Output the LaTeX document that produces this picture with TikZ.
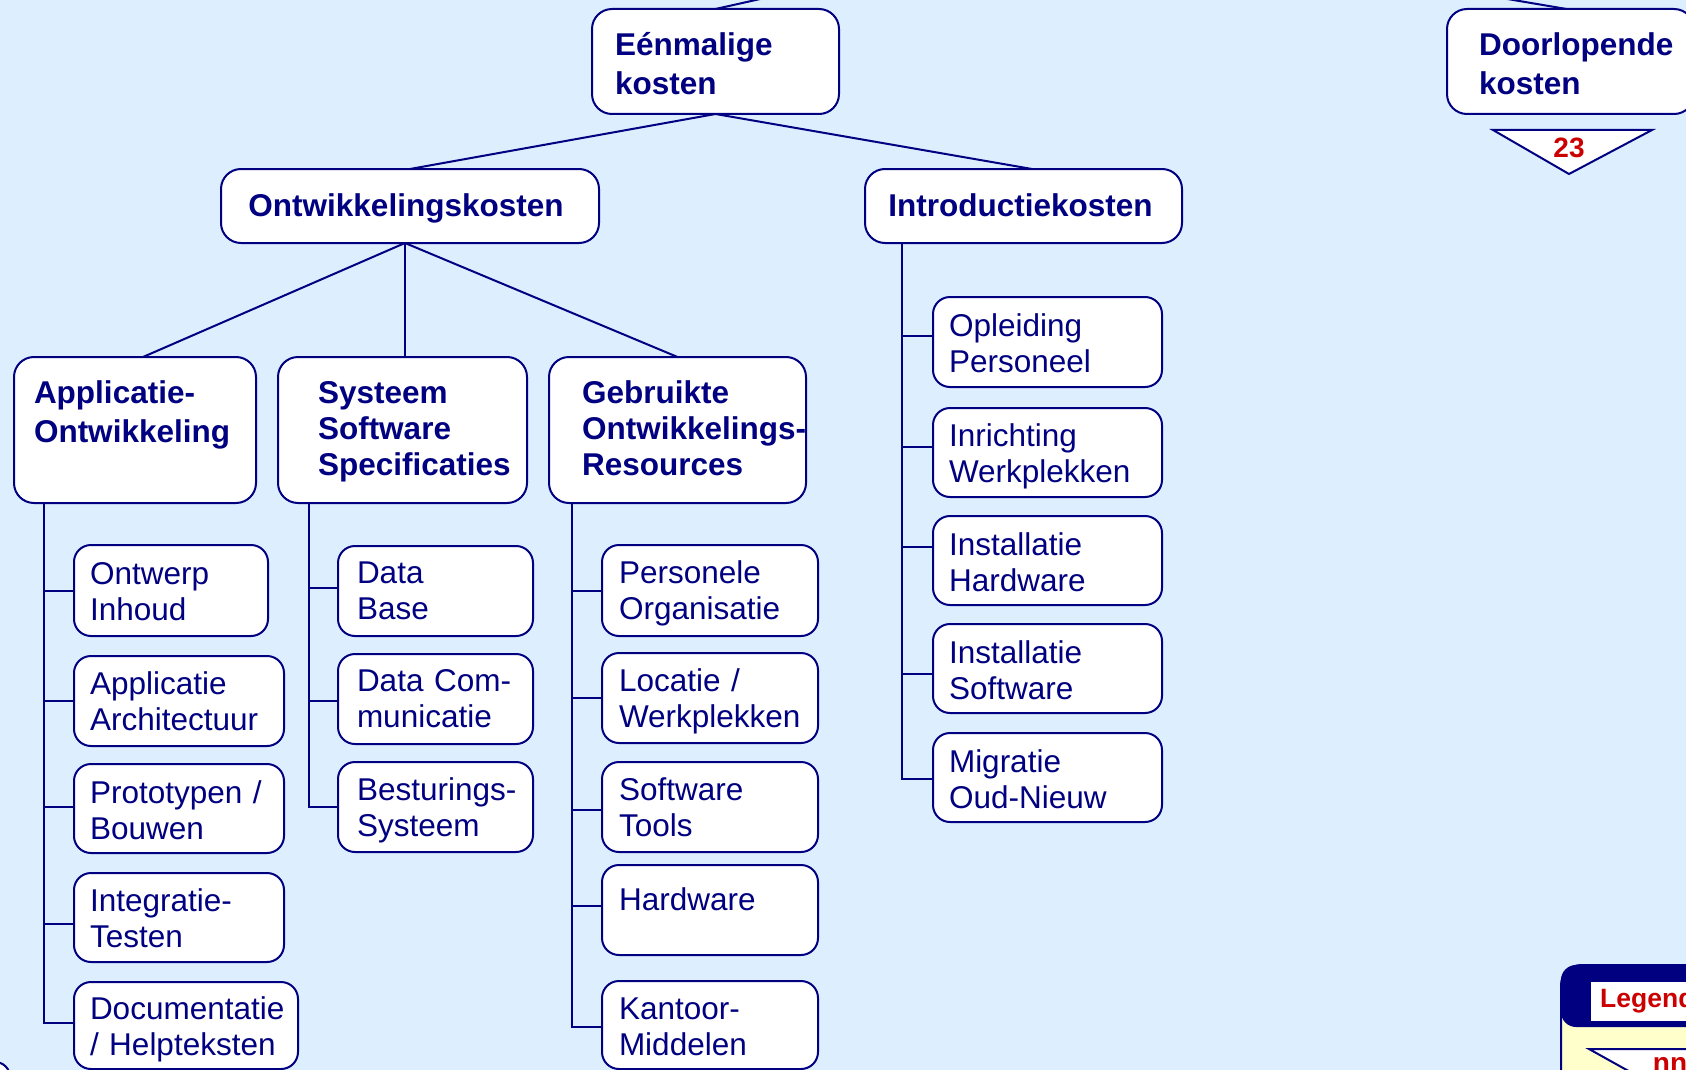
\documentclass[tikz,border=0pt]{standalone}
\usepackage{fontspec}
\setmainfont{Liberation Sans}
\usetikzlibrary{fit}
\definecolor{navy}{HTML}{000080}
\definecolor{bgblue}{HTML}{DDEEFF}
\definecolor{lred}{HTML}{CC0000}
\definecolor{lyellow}{HTML}{FFFFCC}
\begin{document}
\begin{tikzpicture}[x=1pt,y=-1pt,
  conn/.style={draw=navy, line width=2pt},
  box/.style={draw=navy, fill=white, line width=2pt, rounded corners=17pt, inner sep=0pt, outer sep=0pt},
  bigbox/.style={box, rounded corners=20pt},
  lt/.style={anchor=base west, inner sep=0pt, outer sep=0pt, align=left, text width=400pt, text=navy,
             font=\fontsize{31.5pt}{36.5pt}\selectfont},
  bt/.style={lt, font=\bfseries\fontsize{31.5pt}{38.5pt}\selectfont},
  bt36/.style={lt, font=\bfseries\fontsize{31.5pt}{36pt}\selectfont},
  bt39/.style={lt, font=\bfseries\fontsize{31.5pt}{39.5pt}\selectfont},
  ctext/.style={anchor=base, inner sep=0pt, text=navy, font=\bfseries\fontsize{31.5pt}{38pt}\selectfont},
  marktext/.style={text=lred, font=\bfseries\fontsize{28pt}{30pt}\selectfont, inner sep=0pt}
]
\useasboundingbox (0,0) rectangle (1686,1070);
\clip (0,0) rectangle (1686,1070);
\fill[bgblue] (0,0) rectangle (1686,1070);

% top level
\coordinate (root) at (1082,-73);
\node[bigbox, fit={(592,9) (839,114)}] (een) {};
\node[bt] (eent) at ([xshift=23pt,yshift=-47pt]een.north west) {Eénmalige\\kosten};
\node[bigbox, fit={(1447,9) (1694,114)}] (door) {};
\node[bt] (doort) at ([xshift=32pt,yshift=-47pt]door.north west) {Doorlopende\\kosten};

% off-page marker
\draw[conn, fill=white] (1493,130) -- (1652,130) -- (1569,174) -- cycle;
\node[marktext] (t23) at (1569,148) {23};

% level 2
\node[bigbox, fit={(221,169) (599,243)}] (ontw) {};
\node[ctext] (ontwt) at ([xshift=-4pt,yshift=-47pt]ontw.north) {Ontwikkelingskosten};
\node[bigbox, fit={(865,169) (1182,243)}] (intro) {};
\node[ctext] (introt) at ([xshift=-3pt,yshift=-47pt]intro.north) {Introductiekosten};

% level 3
\node[bigbox, fit={(14,357) (256,503)}] (ap) {};
\node[bt39] (apt) at ([xshift=20pt,yshift=-46pt]ap.north west) {Applicatie-\\Ontwikkeling};
\node[bigbox, fit={(278,357) (527,503)}] (sy) {};
\node[bt36] (syt) at ([xshift=40pt,yshift=-46pt]sy.north west) {Systeem\\Software\\Specificaties};
\node[bigbox, fit={(549,357) (806,503)}] (ge) {};
\node[bt36] (get) at ([xshift=33pt,yshift=-46pt]ge.north west) {Gebruikte\\Ontwikkelings-\\Resources};

% children of Applicatie-Ontwikkeling
\node[box, fit={(74,545) (268,636)}] (a1) {};
\node[lt] (a1t) at ([xshift=16pt,yshift=-39pt]a1.north west) {Ontwerp\\Inhoud};
\node[box, fit={(74,656) (284,746)}] (a2) {};
\node[lt] (a2t) at ([xshift=16pt,yshift=-38pt]a2.north west) {Applicatie\\Architectuur};
\node[box, fit={(74,764) (284,853)}] (a3) {};
\node[lt] (a3t) at ([xshift=16pt,yshift=-39pt]a3.north west) {Prototypen /\\Bouwen};
\node[box, fit={(74,873) (284,962)}] (a4) {};
\node[lt] (a4t) at ([xshift=16pt,yshift=-38pt]a4.north west) {Integratie-\\Testen};
\node[box, fit={(74,982) (298,1069)}] (a5) {};
\node[lt] (a5t) at ([xshift=16pt,yshift=-37pt]a5.north west) {Documentatie\\/ Helpteksten};

% children of Systeem Software Specificaties
\node[box, fit={(338,546) (533,636)}] (s1) {};
\node[lt] (s1t) at ([xshift=19pt,yshift=-37pt]s1.north west) {Data\\Base};
\node[box, fit={(338,654) (533,744)}] (s2) {};
\node[lt] (s2t) at ([xshift=19pt,yshift=-37pt]s2.north west) {Data Com-\\municatie};
\node[box, fit={(338,762) (533,852)}] (s3) {};
\node[lt] (s3t) at ([xshift=19pt,yshift=-38pt]s3.north west) {Besturings-\\Systeem};

% children of Gebruikte Ontwikkelings-Resources
\node[box, fit={(602,545) (818,636)}] (g1) {};
\node[lt] (g1t) at ([xshift=17pt,yshift=-38pt]g1.north west) {Personele\\Organisatie};
\node[box, fit={(602,653) (818,743)}] (g2) {};
\node[lt] (g2t) at ([xshift=17pt,yshift=-38pt]g2.north west) {Locatie /\\Werkplekken};
\node[box, fit={(602,762) (818,852)}] (g3) {};
\node[lt] (g3t) at ([xshift=17pt,yshift=-38pt]g3.north west) {Software\\Tools};
\node[box, fit={(602,865) (818,955)}] (g4) {};
\node[lt] (g4t) at ([xshift=17pt,yshift=-45pt]g4.north west) {Hardware};
\node[box, fit={(602,981) (818,1069)}] (g5) {};
\node[lt] (g5t) at ([xshift=17pt,yshift=-38pt]g5.north west) {Kantoor-\\Middelen};

% children of Introductiekosten
\node[box, fit={(933,297) (1162,387)}] (i1) {};
\node[lt] (i1t) at ([xshift=16pt,yshift=-39pt]i1.north west) {Opleiding\\Personeel};
\node[box, fit={(933,408) (1162,497)}] (i2) {};
\node[lt] (i2t) at ([xshift=16pt,yshift=-38pt]i2.north west) {Inrichting\\Werkplekken};
\node[box, fit={(933,516) (1162,605)}] (i3) {};
\node[lt] (i3t) at ([xshift=16pt,yshift=-39pt]i3.north west) {Installatie\\Hardware};
\node[box, fit={(933,624) (1162,713)}] (i4) {};
\node[lt] (i4t) at ([xshift=16pt,yshift=-39pt]i4.north west) {Installatie\\Software};
\node[box, fit={(933,733) (1162,822)}] (i5) {};
\node[lt] (i5t) at ([xshift=16pt,yshift=-39pt]i5.north west) {Migratie\\Oud-Nieuw};

% connectors
\draw[conn] (een.north) -- (root);
\draw[conn] ([xshift=-4pt]door.north) -- (root);
\draw[conn] (een.south) -- (ontw.north);
\draw[conn] (een.south) -- ([xshift=8.5pt]intro.north);
\draw[conn] ([xshift=-5pt]ontw.south) -- ([xshift=8pt]ap.north);
\draw[conn] ([xshift=-5pt]ontw.south) -- ([xshift=2.5pt]sy.north);
\draw[conn] ([xshift=-5pt]ontw.south) -- (ge.north);

\coordinate (atr) at ([xshift=30pt]ap.south west);
\coordinate (str) at ([xshift=31pt]sy.south west);
\coordinate (gtr) at ([xshift=23pt]ge.south west);
\coordinate (itr) at ([xshift=37pt]intro.south west);

\draw[conn] (atr) |- (a1.west);
\draw[conn] (atr) |- (a2.west);
\draw[conn] (atr) |- ([yshift=1.5pt]a3.west);
\draw[conn] (atr) |- ([yshift=-6.5pt]a4.west);
\draw[conn] (atr) |- ([yshift=2.5pt]a5.west);

\draw[conn] (str) |- ([yshift=3pt]s1.west);
\draw[conn] (str) |- ([yshift=-2pt]s2.west);
\draw[conn] (str) |- (s3.west);

\draw[conn] (gtr) |- (g1.west);
\draw[conn] (gtr) |- (g2.west);
\draw[conn] (gtr) |- ([yshift=-3pt]g3.west);
\draw[conn] (gtr) |- ([yshift=4pt]g4.west);
\draw[conn] (gtr) |- ([yshift=-2pt]g5.west);

\draw[conn] (itr) |- ([yshift=6pt]i1.west);
\draw[conn] (itr) |- ([yshift=5.5pt]i2.west);
\draw[conn] (itr) |- ([yshift=13.5pt]i3.west);
\draw[conn] (itr) |- ([yshift=-5.5pt]i4.west);
\draw[conn] (itr) |- ([yshift=-1.5pt]i5.west);

% legend (partly outside the picture, as in the reference)
\node[draw=navy, line width=2pt, fill=lyellow, rounded corners=20pt, inner sep=0pt, fit={(1561,965) (1780,1200)}] (legend) {};
\fill[navy, rounded corners=15pt] (1561,965) rectangle (1780,1027);
\fill[white] (1591,982) rectangle (1780,1021);
\node[anchor=base west, inner sep=0pt, text=lred, font=\bfseries\fontsize{26.5pt}{28pt}\selectfont] (legt) at (1600,1007) {Legenda};
\draw[conn, fill=white] (1589,1049) -- (1748,1049) -- (1668,1093) -- cycle;
\node[marktext, anchor=base] (nn) at (1670,1072) {nn};

% partly visible box at the lower left corner
\draw[conn, fill=white, rounded corners=15pt] (-100,1062) rectangle (10,1200);
\end{tikzpicture}
\end{document}
